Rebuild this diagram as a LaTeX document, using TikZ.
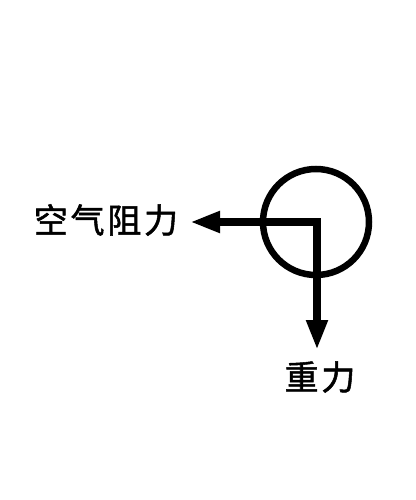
\documentclass[tikz,border=0pt]{standalone}
\usepackage{fontspec}
\usepackage{tikz}
\usetikzlibrary{arrows.meta}
\newfontfamily\cjk[FakeBold=1.5,LetterSpace=8]{Noto Sans CJK SC}
\tikzset{
  force/.style={line width=8pt,line join=miter,{Triangle[length=30pt,width=20pt]}-{Triangle[length=30pt,width=20pt]}},
  forcelabel/.style={font=\cjk\fontsize{34}{40}\selectfont,inner sep=0pt}
}
\begin{document}
\begin{tikzpicture}[line cap=butt,x=1pt,y=-1pt]
\clip(0,0) rectangle (415,500);
\node[circle,draw,line width=6.5pt,minimum size=106pt,inner sep=0pt] (ball) at (316,222) {};
\coordinate (airend) at (190,222);
\coordinate (gend) at (317,350);
\draw[force] (airend) -- (ball.center) -| (gend);
\node[forcelabel] (air) at (106,220) {空气阻力};
\node[forcelabel] (grav) at (320,377) {重力};
\end{tikzpicture}
\end{document}
